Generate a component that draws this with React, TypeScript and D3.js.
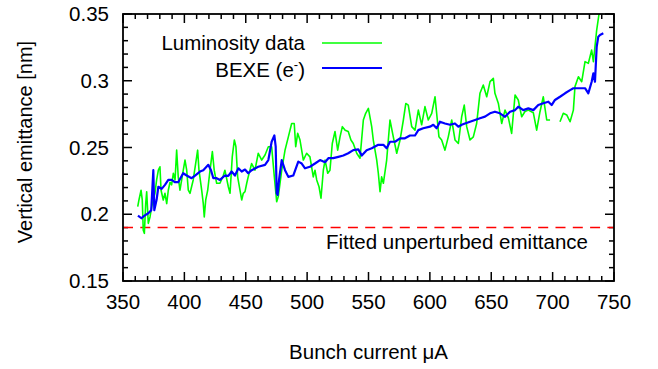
import React from "react";
import * as d3 from "d3";

// Luminosity data (green)
const lumX: number[] = [362,363,364.7,365.7,366.5,367.4,368.5,369.3,370.6,372,373.4,374.7,376,377.4,378.8,380.1,381,382.8,384.2,385.6,386.9,388.3,389.6,391,392.4,393.7,395,396.4,397.8,399.1,400.5,401.9,403.2,404.6,407.2,410,410.8,411.9,414.1,415.4,416.2,417.4,419,420.9,422.8,424.3,426.3,429,431.7,433,435.8,437.2,439,440.7,442,443.4,445.3,446.7,448,449.4,450.8,452,454.8,457.5,460.2,463,465.7,468.4,471.1,473.3,475.2,476.5,479.3,482,484.7,487.4,489.5,490.7,492.3,494.2,496.9,499.6,502.3,505,506.4,507.8,509.7,511.3,513.2,514.6,516.8,518.6,520.5,522.7,524.9,526.8,528.7,531,533.5,535.7,537.6,540.4,543.1,545.8,547.7,549.9,552.6,553.9,556.7,558,559.4,560.7,562.1,564.8,567.5,570.2,573,575.7,578.4,580.4,582.4,585.2,587.9,590.6,593.3,596,598.7,601.5,604.2,607.4,609.6,612.3,615,617.8,620.5,623.2,625.9,628,630,632.7,635.4,638.1,640.8,643.5,646.3,649,651.7,653,655.8,658.5,661.2,664,666.6,669.4,672,674.8,677.5,680.2,684.3,687,689.7,692.4,695.2,697.9,702,706,708.7,711.5,714.2,716.9,718.2,721,723.7,726.4,729.1,731.8,733.2,735.9,737.8,739.5];
const lumY: (number | null)[] = [0.2057,0.2107,0.218,0.2107,0.188,0.1857,0.208,0.2169,0.1932,0.198,0.2057,0.2107,0.2157,0.2257,0.233,0.2356,0.218,0.2107,0.2157,0.208,0.218,0.224,0.222,0.2307,0.2257,0.248,0.228,0.218,0.2257,0.233,0.2406,0.233,0.218,0.2157,0.2257,0.243,0.248,0.233,0.218,0.208,0.198,0.2107,0.218,0.233,0.2469,0.233,0.2232,0.2232,0.229,0.233,0.2206,0.2157,0.243,0.2556,0.2506,0.228,0.218,0.2107,0.2157,0.2169,0.2232,0.228,0.238,0.233,0.2457,0.2406,0.2444,0.2506,0.2506,0.228,0.2094,0.2132,0.233,0.248,0.258,0.268,0.268,0.2506,0.2606,0.2556,0.2406,0.2457,0.243,0.228,0.233,0.2257,0.2206,0.212,0.233,0.2406,0.2307,0.233,0.253,0.262,0.248,0.258,0.2656,0.263,0.262,0.2556,0.253,0.2457,0.242,0.2706,0.2756,0.2793,0.2656,0.2556,0.2406,0.2307,0.2169,0.228,0.2232,0.2406,0.2706,0.258,0.2457,0.2556,0.2706,0.283,0.2818,0.2656,0.263,0.278,0.267,0.2806,0.2706,0.2756,0.288,0.258,0.2556,0.248,0.258,0.2706,0.2556,0.253,0.273,0.2818,0.2656,0.2556,0.258,0.268,0.2906,0.2968,0.288,0.2993,0.3018,0.2906,0.283,0.268,0.278,0.272,0.2606,0.2893,0.2856,0.273,0.277,0.278,0.276,0.263,0.2768,0.288,0.2706,0.2706,null,0.2693,0.2756,0.2744,0.2693,0.278,0.2956,0.303,0.2993,0.3143,0.313,0.323,0.3143,0.338,0.35,0.358];

// BEXE (e-) (blue)
const bexeX: number[] = [362.2,365,367.5,370.6,373,374.7,375.5,377.4,378.8,381.5,384.2,386.9,389.6,392.4,395,399,401.9,405.9,408.7,412.7,415.4,419.5,421.7,423.6,426.3,429,433,435.8,438.5,441.2,444,446.7,449.4,452,454.8,460.2,465.7,468.4,471.1,473.3,474.4,475.2,476,477.1,479.3,482,484.7,488.7,492.8,495.6,498.3,502.3,506.4,510.5,514.6,517.3,521.3,525.4,529.5,533.5,537.6,541.7,544.5,548.5,552.6,558,562.1,564.8,567.5,571.6,575.7,579.7,583.8,587.9,590.6,594.6,600.1,602.8,605.5,608.2,612.3,616.4,620.4,623.2,625.9,628.6,632.7,636.8,640.8,644.9,649,653,657.1,661.2,665.3,669.4,672,676.1,680.2,684.3,688.3,692.4,696.5,699.2,701.9,706,710.1,714.2,716.9,721,726.4,729.1,731.8,733.2,734.5,735.9,737.2,738.6,741.3];
const bexeY: number[] = [0.199,0.197,0.199,0.2007,0.203,0.233,0.203,0.211,0.2206,0.219,0.222,0.2257,0.2257,0.224,0.224,0.2307,0.229,0.227,0.229,0.232,0.233,0.237,0.233,0.227,0.227,0.2257,0.229,0.2287,0.232,0.229,0.2344,0.232,0.2335,0.2307,0.233,0.2356,0.237,0.2406,0.2543,0.259,0.2506,0.2157,0.2144,0.2257,0.2406,0.233,0.228,0.229,0.2394,0.238,0.2344,0.2356,0.238,0.2406,0.239,0.242,0.242,0.243,0.244,0.2457,0.248,0.2486,0.244,0.248,0.2494,0.252,0.252,0.2494,0.2543,0.2543,0.2569,0.2569,0.259,0.259,0.263,0.2644,0.2656,0.267,0.2644,0.2693,0.268,0.267,0.268,0.2656,0.267,0.268,0.2693,0.2706,0.2719,0.2731,0.2756,0.2768,0.2756,0.273,0.2768,0.278,0.2806,0.278,0.2793,0.278,0.2818,0.2831,0.2843,0.2818,0.2856,0.288,0.2906,0.293,0.2944,0.2944,0.2944,0.2906,0.2993,0.3056,0.2993,0.3255,0.333,0.3343,0.3355];

const fittedEmittance = 0.19;
const xTicks = [350, 400, 450, 500, 550, 600, 650, 700, 750];
const yTicks = [0.15, 0.2, 0.25, 0.3, 0.35];
const yTickLabels = ["0.15", "0.2", "0.25", "0.3", "0.35"];

const W = 658, H = 369;
const L = 123, R = 614, T = 14, B = 281;
const FONT = "'Liberation Sans', Arial, Helvetica, sans-serif";
const FS = 20.5;

export default function App() {
  const x = d3.scaleLinear().domain([350, 750]).range([L, R]);
  const y = d3.scaleLinear().domain([0.15, 0.35]).range([B, T]);

  const lumData = lumX.map((v, i) => ({ x: v, y: lumY[i] }));
  const bexeData = bexeX.map((v, i) => ({ x: v, y: bexeY[i] }));

  const line = d3
    .line<{ x: number; y: number | null }>()
    .defined((d) => d.y !== null)
    .x((d) => x(d.x))
    .y((d) => y(d.y as number));

  const xMinor = d3.range(350, 751, 10);
  const yMinor = d3.range(0, 21).map((i) => 0.15 + i * 0.01);
  const major = 9, minor = 5;

  return (
    <svg width={W} height={H} style={{ position: "absolute", left: 0, top: 0 }} fontFamily={FONT}>
      <defs>
        <clipPath id="plotclip">
          <rect x={L} y={T} width={R - L} height={B - T} />
        </clipPath>
      </defs>
      <rect width={W} height={H} fill="#fff" />
      {/* ticks */}
      <g stroke="#000" strokeWidth={1.5}>
        {xMinor.map((v) => {
          const isMaj = v % 50 === 0;
          const len = isMaj ? major : minor;
          return (
            <g key={"xt" + v}>
              <line x1={x(v)} x2={x(v)} y1={B} y2={B - len} />
              <line x1={x(v)} x2={x(v)} y1={T} y2={T + len} />
            </g>
          );
        })}
        {yMinor.map((v, i) => {
          const len = i % 5 === 0 ? major : minor;
          return (
            <g key={"yt" + i}>
              <line x1={L} x2={L + len} y1={y(v)} y2={y(v)} />
              <line x1={R} x2={R - len} y1={y(v)} y2={y(v)} />
            </g>
          );
        })}
      </g>
      {/* data */}
      <g clipPath="url(#plotclip)">
        <line
          x1={L}
          x2={R}
          y1={y(fittedEmittance)}
          y2={y(fittedEmittance)}
          stroke="#ff0000"
          strokeWidth={1.5}
          strokeDasharray="10,7.3"
        />
        <path d={line(lumData) || ""} fill="none" stroke="#00ff00" strokeWidth={1.6} strokeLinejoin="round" />
        <path d={line(bexeData) || ""} fill="none" stroke="#0000ff" strokeWidth={2.2} strokeLinejoin="round" />
      </g>
      {/* frame */}
      <rect x={L} y={T} width={R - L} height={B - T} fill="none" stroke="#000" strokeWidth={1.8} />
      {/* tick labels */}
      <g fontSize={FS} fill="#000">
        {xTicks.map((v) => (
          <text key={"xl" + v} x={x(v)} y={309} textAnchor="middle">
            {v}
          </text>
        ))}
        {yTicks.map((v, i) => (
          <text key={"yl" + v} x={109} y={y(v) + 7} textAnchor="end">
            {yTickLabels[i]}
          </text>
        ))}
      </g>
      {/* legend */}
      <g fontSize={FS} fill="#000">
        <text x={305} y={50} textAnchor="end">Luminosity data</text>
        <line x1={322} x2={382} y1={43} y2={43} stroke="#00ff00" strokeWidth={1.6} />
        <text x={305} y={77} textAnchor="end">
          BEXE (e<tspan fontSize={13} dy={-8}>-</tspan>
          <tspan dy={8}>)</tspan>
        </text>
        <line x1={322} x2={382} y1={68} y2={68} stroke="#0000ff" strokeWidth={2.2} />
        <text x={588} y={249} textAnchor="end">Fitted unperturbed emittance</text>
      </g>
      {/* axis titles */}
      <text x={(L + R) / 2} y={359} textAnchor="middle" fontSize={FS}>
        Bunch current μA
      </text>
      <text transform={`translate(31.5,142) rotate(-90)`} textAnchor="middle" fontSize={20}>
        Vertical emittance [nm]
      </text>
    </svg>
  );
}
